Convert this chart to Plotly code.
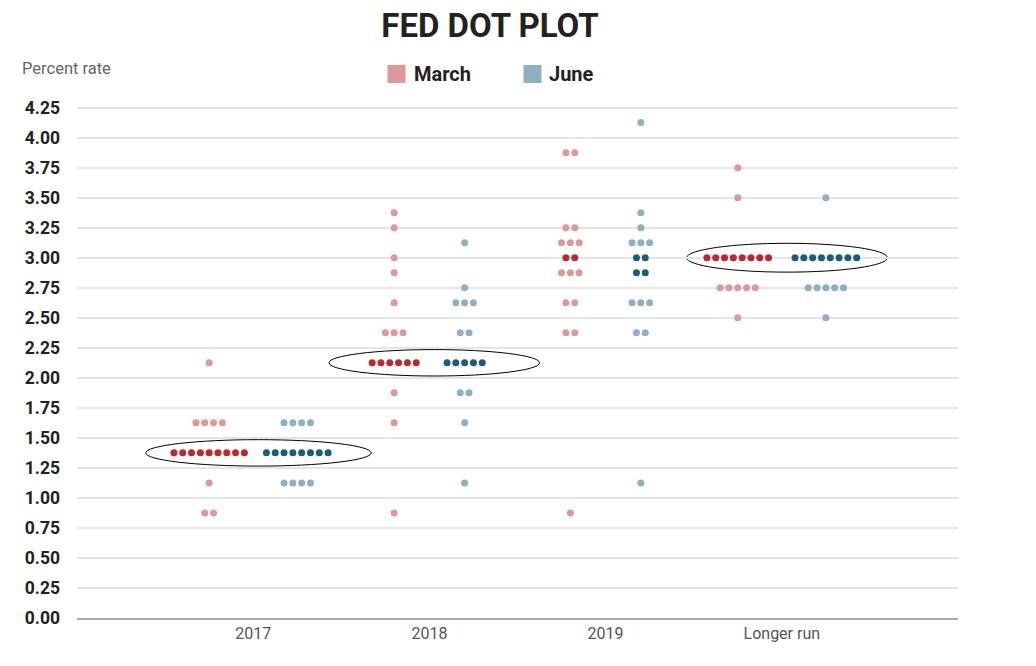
import plotly.graph_objects as go

# ---------------- data ----------------
CATEGORIES = ["2017", "2018", "2019", "Longer run"]

# each entry: (rate level, number of participants)
MARCH_2017 = [(2.125, 1), (1.625, 4), (1.375, 9), (1.125, 1), (0.875, 2)]
MARCH_2018 = [(3.375, 1), (3.25, 1), (3.0, 1), (2.875, 1), (2.625, 1), (2.375, 3),
              (2.125, 6), (1.875, 1), (1.625, 1), (0.875, 1)]
MARCH_2019 = [(3.875, 2), (3.25, 2), (3.125, 3), (3.0, 2), (2.875, 3), (2.625, 2),
              (2.375, 2), (0.875, 1)]
MARCH_LR = [(3.75, 1), (3.5, 1), (3.0, 8), (2.75, 5), (2.5, 1)]

JUNE_2017 = [(1.625, 4), (1.375, 8), (1.125, 4)]
JUNE_2018 = [(3.125, 1), (2.75, 1), (2.625, 3), (2.375, 2), (2.125, 5), (1.875, 2),
             (1.625, 1), (1.125, 1)]
JUNE_2019 = [(4.125, 1), (3.375, 1), (3.25, 1), (3.125, 3), (3.0, 2), (2.875, 2),
             (2.625, 3), (2.375, 2), (1.125, 1)]
JUNE_LR = [(3.5, 1), (3.0, 8), (2.75, 5), (2.5, 1)]

MARCH = [MARCH_2017, MARCH_2018, MARCH_2019, MARCH_LR]
JUNE = [JUNE_2017, JUNE_2018, JUNE_2019, JUNE_LR]

# median levels (highlighted darker)
MARCH_MEDIAN = [[1.375], [2.125], [3.0], [3.0]]
JUNE_MEDIAN = [[1.375], [2.125], [2.875, 3.0], [3.0]]

# highlighted ellipses: (category index, level, x-extent left, x-extent right, half height)
ELLIPSES = [(0, 1.375, -0.61, 0.67, 0.11),
            (1, 2.125, -0.57, 0.625, 0.11),
            (3, 3.0, -0.54, 0.60, 0.12)]

Y_TICKS = [0.0, 0.25, 0.5, 0.75, 1.0, 1.25, 1.5, 1.75, 2.0, 2.25, 2.5, 2.75,
           3.0, 3.25, 3.5, 3.75, 4.0, 4.25]

# ---------------- styles ----------------
GROUP_OFFSET = [0.25, 0.2, 0.2, 0.25]
DOT_STEP = 0.05
COLORS = {
    "March": ("#e09797", "#c1262c"),
    "June": ("#8eb0c2", "#175d7d"),
}


def build(series, medians, side):
    lx, ly, dx, dy = [], [], [], []
    for ci, groups in enumerate(series):
        center = (ci + 1) + side * GROUP_OFFSET[ci]
        for level, n in groups:
            for i in range(n):
                x = center + (i - (n - 1) / 2) * DOT_STEP
                if level in medians[ci]:
                    dx.append(x); dy.append(level)
                else:
                    lx.append(x); ly.append(level)
    return lx, ly, dx, dy


fig = go.Figure()
for name, series, medians, side in [("March", MARCH, MARCH_MEDIAN, -1),
                                     ("June", JUNE, JUNE_MEDIAN, 1)]:
    lx, ly, dx, dy = build(series, medians, side)
    light, dark = COLORS[name]
    fig.add_trace(go.Scatter(x=lx, y=ly, mode="markers", name=name,
                             marker=dict(size=7, color=light), showlegend=False,
                             hoverinfo="y"))
    fig.add_trace(go.Scatter(x=dx, y=dy, mode="markers", name=name + " median",
                             marker=dict(size=7, color=dark), showlegend=False,
                             hoverinfo="y"))

for ci, level, left, right, hh in ELLIPSES:
    fig.add_shape(type="circle", xref="x", yref="y",
                  x0=ci + 1 + left, x1=ci + 1 + right,
                  y0=level - hh, y1=level + hh,
                  line=dict(color="black", width=1), layer="below")

# legend drawn with shapes + text
PLOT_L, PLOT_R, PLOT_T, PLOT_B = 77, 958, 104, 618
def px(x):
    return (x - PLOT_L) / (PLOT_R - PLOT_L)
def py(y):
    return (PLOT_B - y) / (PLOT_B - PLOT_T)

legend_items = [("March", COLORS["March"][0], 387.5, 412),
                ("June", COLORS["June"][0], 523.5, 547)]
for label, col, sx, tx in legend_items:
    fig.add_shape(type="rect", xref="paper", yref="paper",
                  x0=px(sx), x1=px(sx + 18), y0=py(83), y1=py(65),
                  fillcolor=col, line=dict(width=0))
    fig.add_annotation(text=label, xref="paper", yref="paper",
                       x=px(tx), y=py(74), xanchor="left", yanchor="middle",
                       showarrow=False,
                       font=dict(family="Roboto", size=20, color="#222222", weight="bold"))

fig.add_annotation(text="Percent rate", xref="paper", yref="paper",
                   x=px(20), y=py(68), xanchor="left", yanchor="middle",
                   showarrow=False,
                   font=dict(family="Roboto", size=16.5, color="#666666"))

fig.update_layout(
    width=1036, height=666,
    margin=dict(l=77, r=78, t=104, b=48),
    paper_bgcolor="white", plot_bgcolor="white",
    title=dict(text="<b>FED DOT PLOT</b>", x=490 / 1036, xanchor="center",
               y=1 - 25 / 666, yanchor="middle",
               font=dict(family="Roboto", size=33, color="#222222")),
    showlegend=False,
    xaxis=dict(range=[0, 5], tickvals=[1, 2, 3, 4], ticktext=CATEGORIES,
               showgrid=False, zeroline=False, showline=True,
               linecolor="#aaaaaa", linewidth=2, ticks="",
               tickfont=dict(family="Roboto", size=16, color="#555555"),
               fixedrange=True),
    yaxis=dict(range=[0, 4.28], tickvals=Y_TICKS,
               ticktext=[f"{v:.2f}" for v in Y_TICKS],
               showgrid=True, gridcolor="#e5e5e5", gridwidth=1.5,
               zeroline=False, showline=False, ticks="",
               ticklabelstandoff=16,
               tickfont=dict(family="Roboto", size=17.5, color="#222222", weight="bold"),
               fixedrange=True),
)

fig.write_html("out.html", config={"displayModeBar": False},
               post_script="document.body.style.margin='0px';"
                           "document.body.style.overflow='hidden';")
